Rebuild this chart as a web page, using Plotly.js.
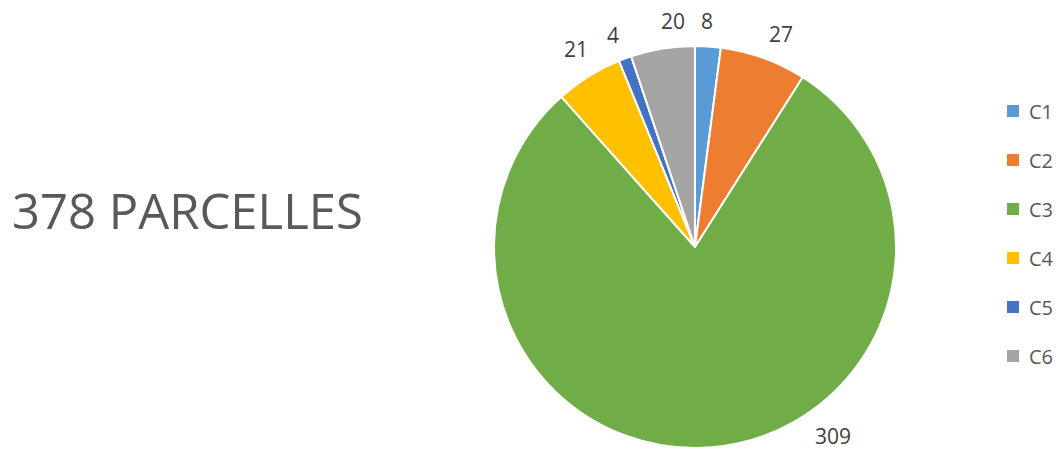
<!DOCTYPE html>
<html>
<head>
<meta charset="utf-8">
<script src="https://cdn.plot.ly/plotly-3.0.1.min.js"></script>
<style>html,body{margin:0;padding:0;background:#fff;}#chart{width:1061px;height:450px;}</style>
</head>
<body>
<div id="chart"></div>
<script>
const categories = ["C1", "C2", "C3", "C4", "C5", "C6"];
const values = [8, 27, 309, 21, 4, 20];
const colors = ["#5B9BD5", "#ED7D31", "#70AD47", "#FFC000", "#4472C4", "#A5A5A5"];
const titleText = "378 PARCELLES";

const W = 1061, H = 450;
const cx = 695, cy = 247, r = 201;
// "best fit" nudges of the data-label angles (degrees), as in the reference
const labelAngleShift = [-0.6, 2, -31.5, 1, -0.8, 3.8];
const labelFontSize = 21;

const trace = {
  type: "pie",
  labels: categories,
  values: values,
  sort: false,
  direction: "clockwise",
  rotation: 0,
  marker: {colors: colors, line: {color: "#ffffff", width: 2}},
  textinfo: "none",
  hoverinfo: "label+value",
  automargin: false,
  showlegend: false,
  domain: {x: [(cx - r) / W, (cx + r) / W], y: [1 - (cy + r) / H, 1 - (cy - r) / H]}
};

const shapes = [];
const annotations = [];

// data labels placed outside each slice, from the slice's mid angle
const total = values.reduce((a, b) => a + b, 0);
let cum = 0;
values.forEach((v, i) => {
  const mid = (cum + v / 2) / total * 360 + labelAngleShift[i];
  cum += v;
  const a = mid * Math.PI / 180;
  const txt = String(v);
  const w = txt.length * labelFontSize * 0.57, h = labelFontSize * 1.05;
  const d = r + 14 + (w / 2) * Math.abs(Math.sin(a)) + (h / 2) * Math.abs(Math.cos(a));
  const px = cx + d * Math.sin(a), py = cy - d * Math.cos(a);
  annotations.push({xref: "paper", yref: "paper", x: px / W, y: 1 - py / H,
    xanchor: "center", yanchor: "middle", showarrow: false, text: txt,
    font: {family: "Open Sans, sans-serif", size: labelFontSize, color: "#404040"}});
});

const legY0 = 111, legStep = 49;
categories.forEach((c, i) => {
  const y = legY0 + i * legStep;
  shapes.push({type: "rect", xref: "paper", yref: "paper",
    x0: 1007 / W, x1: 1019 / W, y0: 1 - (y + 6) / H, y1: 1 - (y - 6) / H,
    fillcolor: colors[i], line: {width: 0}});
  annotations.push({xref: "paper", yref: "paper", x: 1027 / W, y: 1 - y / H,
    xanchor: "left", yanchor: "middle", showarrow: false, text: c,
    font: {family: "Open Sans, sans-serif", size: 20, color: "#595959"}});
});

const layout = {
  width: W, height: H,
  margin: {l: 0, r: 0, t: 0, b: 0},
  paper_bgcolor: "#ffffff",
  showlegend: false,
  title: {text: titleText, x: 12 / W, xanchor: "left", xref: "container",
    y: 1 - 212 / H, yanchor: "middle", yref: "container",
    font: {family: "Open Sans, sans-serif", size: 49, color: "#595959"}},
  shapes: shapes,
  annotations: annotations
};

Plotly.newPlot("chart", [trace], layout, {displayModeBar: false, staticPlot: true});
</script>
</body>
</html>
